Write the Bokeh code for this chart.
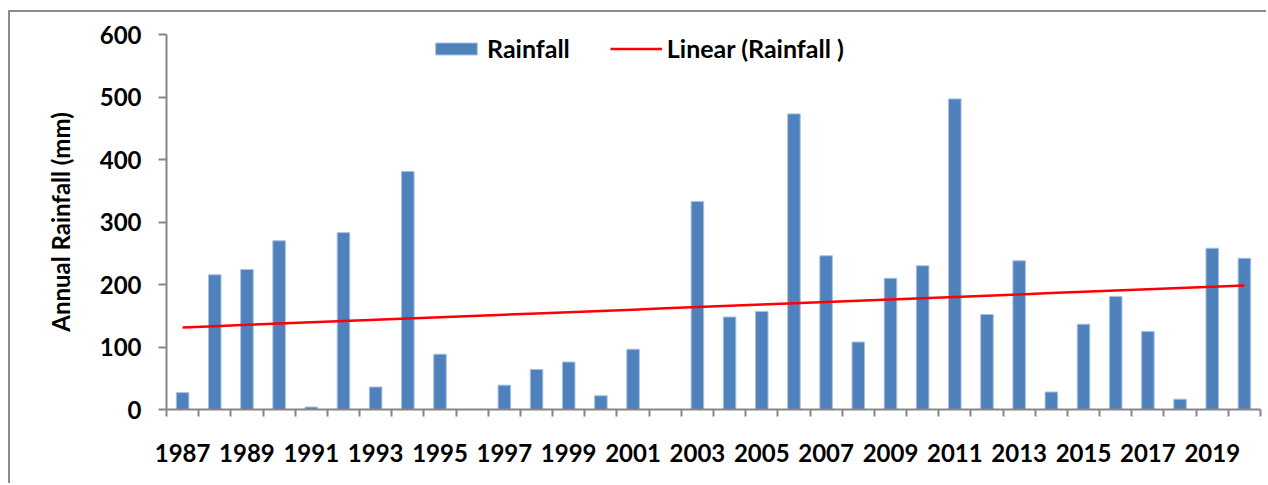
import numpy as np
from bokeh.plotting import figure
from bokeh.models import Range1d, FixedTicker, Legend, LegendItem, ColumnDataSource
from bokeh.embed import file_html
from bokeh.resources import INLINE

years = list(range(1987, 2021))
rainfall = [27, 215.5, 224, 270, 4, 283, 36, 381, 88.5, 0,
            39, 64, 76, 22, 96.5, 0, 333, 148, 157, 473,
            246, 108, 210, 230, 497, 152, 238, 28, 136.5, 181,
            125, 16.5, 258, 242]
y_ticks = [0, 100, 200, 300, 400, 500, 600]
x_label_years = list(range(1987, 2020, 2))

FONT = "Lato"
FS = "24px"
BAR = "#4F81BD"
AXIS = "#868686"

# linear trendline (least squares over all years, as a spreadsheet trendline)
slope, intercept = np.polyfit(years, rainfall, 1)
trend = [slope * y + intercept for y in years]

src = ColumnDataSource(dict(year=years, rain=rainfall, trend=trend))

p = figure(width=1258, height=473, output_backend="svg", toolbar_location=None,
           x_range=Range1d(1986.5, 2020.5), y_range=Range1d(0, 600),
           min_border_left=156, min_border_right=8, min_border_top=22, min_border_bottom=76)
p.outline_line_color = None
p.xgrid.grid_line_color = None
p.ygrid.grid_line_color = None

bars = p.vbar(x="year", top="rain", width=0.39, source=src,
              fill_color=BAR, line_color="#a9c1e0", line_width=1)
tline = p.line(x="year", y="trend", source=src, line_color="#FF0000", line_width=2.5)

# x axis: labels at odd years, tick marks between categories
xa = p.xaxis[0]
xa.ticker = FixedTicker(ticks=x_label_years, minor_ticks=[y - 0.5 for y in years] + [2020.5])
xa.major_tick_line_color = None
xa.major_tick_out = 0
xa.major_tick_in = 0
xa.minor_tick_out = 7
xa.minor_tick_in = 0
xa.minor_tick_line_color = AXIS
xa.minor_tick_line_width = 2
xa.axis_line_color = AXIS
xa.axis_line_width = 2
xa.major_label_text_font = FONT
xa.major_label_text_font_style = "bold"
xa.major_label_text_font_size = FS
xa.major_label_text_color = "#000000"
xa.major_label_standoff = 27

ya = p.yaxis[0]
ya.ticker = FixedTicker(ticks=y_ticks)
ya.minor_tick_line_color = None
ya.major_tick_out = 8
ya.major_tick_in = 0
ya.major_tick_line_color = AXIS
ya.major_tick_line_width = 2
ya.axis_line_color = AXIS
ya.axis_line_width = 2
ya.major_label_text_font = FONT
ya.major_label_text_font_style = "bold"
ya.major_label_text_font_size = FS
ya.major_label_text_color = "#000000"
ya.major_label_standoff = 17
ya.axis_label = "Annual Rainfall (mm)"
ya.axis_label_text_font = FONT
ya.axis_label_text_font_style = "bold"
ya.axis_label_text_font_size = FS
ya.axis_label_text_color = "#000000"
ya.axis_label_standoff = 22

legend = Legend(items=[LegendItem(label="Rainfall", renderers=[bars]),
                       LegendItem(label="Linear (Rainfall )", renderers=[tline])],
                orientation="horizontal", location=(264, 346),
                glyph_width=52, glyph_height=15, label_standoff=5, spacing=40,
                padding=0, margin=0, border_line_color=None, background_fill_alpha=0,
                label_text_font=FONT, label_text_font_style="bold",
                label_text_font_size="25px", label_text_color="#000000")
p.add_layout(legend, "center")

p.styles = {"margin-left": "8px", "margin-top": "10px",
            "border-left": "2px solid #8c8c8c", "border-top": "2px solid #8c8c8c"}

open("out.html", "w").write(file_html(p, INLINE))
